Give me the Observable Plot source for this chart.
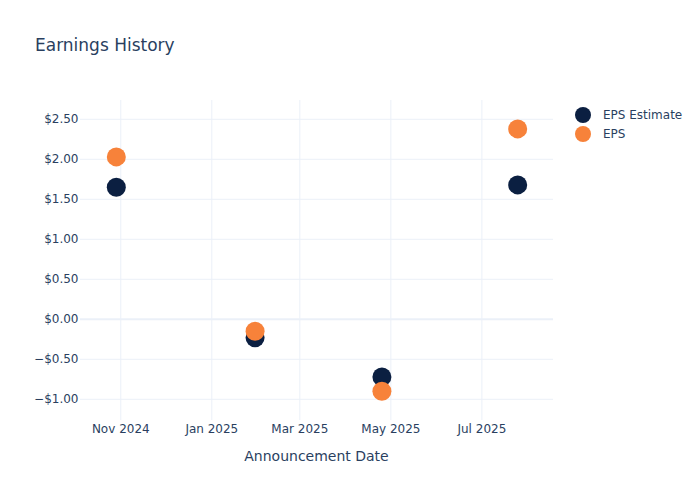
<!DOCTYPE html>
<html>
<head>
<meta charset="utf-8">
<script src="https://cdn.jsdelivr.net/npm/d3@7"></script>
<script src="https://cdn.jsdelivr.net/npm/@observablehq/plot@0.6"></script>
<style>
  body { margin: 0; background: #fff; }
  #wrap { position: relative; width: 700px; height: 500px; font-family: "DejaVu Sans", sans-serif; color: #2a3f5f; }
  #wrap svg { position: absolute; left: 0; top: 0; }
  .txt { position: absolute; white-space: nowrap; }
  #title { left: 35px; top: 37px; font-size: 17px; line-height: 17px; }
  #xlabel { left: 80px; width: 473px; text-align: center; top: 449px; font-size: 14px; line-height: 14px; }
  #legend { position: absolute; left: 575px; top: 105px; font-size: 12px; }
  .item { display: flex; align-items: center; height: 19px; }
  .sw { width: 16px; height: 16px; border-radius: 50%; margin-right: 12px; }
</style>
</head>
<body>
<div id="wrap">
  <div id="title" class="txt">Earnings History</div>
  <div id="xlabel" class="txt">Announcement Date</div>
  <div id="legend"></div>
</div>
<script>
const dates = ["2024-10-29", "2025-01-30", "2025-04-25", "2025-07-25"];
const epsEstimate = [1.65, -0.23, -0.72, 1.68];
const eps = [2.03, -0.15, -0.90, 2.38];
const seriesNames = ["EPS Estimate", "EPS"];
const seriesColors = ["#0b1f41", "#f7823a"];
const yTicks = [-1, -0.5, 0, 0.5, 1, 1.5, 2, 2.5];
const xTicks = ["2024-11-01", "2025-01-01", "2025-03-01", "2025-05-01", "2025-07-01"];

const rows = [];
dates.forEach((d, i) => rows.push({date: new Date(d), value: epsEstimate[i], series: seriesNames[0]}));
dates.forEach((d, i) => rows.push({date: new Date(d), value: eps[i], series: seriesNames[1]}));
const xTickDates = xTicks.map(d => new Date(d));

const fmtY = v => (v < 0 ? "\u2212" : "") + "$" + Math.abs(v).toFixed(2);

const chart = Plot.plot({
  width: 700,
  height: 500,
  marginLeft: 80,
  marginRight: 147,
  marginTop: 100,
  marginBottom: 80,
  style: { fontFamily: "DejaVu Sans, sans-serif", fontSize: "12px", color: "#2a3f5f", background: "transparent" },
  x: {
    type: "utc",
    domain: [new Date("2024-10-05"), new Date("2025-08-18")],
    ticks: xTickDates,
    tickFormat: d3.utcFormat("%b %Y"),
    tickSize: 0,
    tickPadding: 4,
    label: null
  },
  y: {
    domain: [-1.265, 2.735],
    ticks: yTicks,
    tickFormat: fmtY,
    tickSize: 0,
    tickPadding: 2,
    label: null
  },
  color: { domain: seriesNames, range: seriesColors },
  marks: [
    Plot.ruleX(xTickDates, { stroke: "#ebf0f8", strokeWidth: 1 }),
    Plot.ruleY(yTicks.filter(v => v !== 0), { stroke: "#ebf0f8", strokeWidth: 1 }),
    Plot.ruleY([0], { stroke: "#ebf0f8", strokeWidth: 2 }),
    Plot.dot(rows, { x: "date", y: "value", fill: "series", r: 9.5, stroke: null })
  ]
});
document.getElementById("wrap").prepend(chart);

const legend = document.getElementById("legend");
seriesNames.forEach((name, i) => {
  const item = document.createElement("div");
  item.className = "item";
  const sw = document.createElement("div");
  sw.className = "sw";
  sw.style.background = seriesColors[i];
  const label = document.createElement("span");
  label.textContent = name;
  item.appendChild(sw);
  item.appendChild(label);
  legend.appendChild(item);
});
</script>
</body>
</html>
